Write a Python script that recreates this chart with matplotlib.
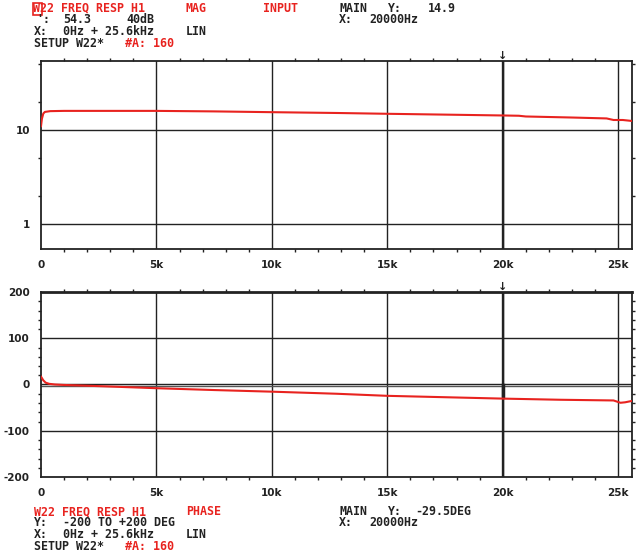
import matplotlib
matplotlib.use('Agg')
import matplotlib.pyplot as plt
import matplotlib.ticker as ticker
from matplotlib.patches import Rectangle

W, H = 640, 551
RED = '#e8231f'
INK = '#222222'

# 幅值曲线 (Hz, 幅值)
mag_freq = [0, 40, 100, 170, 400, 1000, 3000, 5000, 7500, 10000, 12800, 15000,
            17500, 20000, 20700, 21000, 23000, 24500, 24800, 25200, 25600]
mag_vals = [11.0, 13.2, 15.0, 15.6, 15.9, 16.0, 16.0, 16.0, 15.8, 15.5, 15.2, 14.9,
            14.6, 14.3, 14.2, 13.95, 13.6, 13.3, 12.8, 12.8, 12.5]

# 相位曲线 (Hz, deg)
phase_freq = [0, 100, 200, 350, 600, 1000, 2500, 5000, 7500, 10000, 12800, 15000,
              17500, 20000, 22500, 24800, 25100, 25300, 25600]
phase_vals = [17, 9, 4, 1.5, 0, -1, -3.5, -8, -12, -15.5, -20, -24.5,
              -27.5, -30.5, -33, -34.5, -39.5, -38.5, -35.5]

x_ticks = [0, 5000, 10000, 15000, 20000, 25000]
x_labels = ['0', '5k', '10k', '15k', '20k', '25k']
mag_ticks, mag_labels = [1, 10], ['1', '10']
mag_minor = [2, 5, 20, 50]
ph_ticks = [-200, -100, 0, 100, 200]
ph_labels = ['-200', '-100', '0', '100', '200']

header_top = [  # (x, y, text, colour)
    (33, 8, 'W22 FREQ RESP H1', RED), (186, 8, 'MAG', RED), (263, 8, 'INPUT', RED),
    (339, 8, 'MAIN', INK), (388, 8, 'Y:', INK), (428, 8, '14.9', INK),
    (36, 19.5, "':", INK), (63, 19.5, '54.3', INK), (126, 19.5, '40dB', INK),
    (339, 19.5, 'X:', INK), (369, 19.5, '20000Hz', INK),
    (34, 31.5, 'X:', INK), (63, 31.5, '0Hz + 25.6kHz', INK), (186, 31.5, 'LIN', INK),
    (34, 43.5, 'SETUP W22*', INK), (125, 43.5, '#A: 160', RED),
]
header_bot = [
    (34, 511.5, 'W22 FREQ RESP H1', RED), (186, 511.5, 'PHASE', RED),
    (339, 511.5, 'MAIN', INK), (388, 511.5, 'Y:', INK), (415, 511.5, '-29.5DEG', INK),
    (34, 523, 'Y:', INK), (63, 523, '-200 TO +200 DEG', INK),
    (339, 523, 'X:', INK), (369, 523, '20000Hz', INK),
    (34, 534.5, 'X:', INK), (63, 534.5, '0Hz + 25.6kHz', INK), (186, 534.5, 'LIN', INK),
    (34, 546, 'SETUP W22*', INK), (125, 546, '#A: 160', RED),
]

fig = plt.figure(figsize=(W / 100, H / 100), dpi=100)

def axes_px(left, top, right, bottom):
    return fig.add_axes([left / W, 1 - bottom / H, (right - left) / W, (bottom - top) / H])

def style(ax, xmax):
    ax.set_xlim(0, xmax)
    for s in ax.spines.values():
        s.set_color(INK); s.set_linewidth(1.3)
    ax.set_xticks(x_ticks)
    ax.set_xticklabels(x_labels)
    ax.xaxis.set_minor_locator(ticker.MultipleLocator(1000))
    ax.tick_params(axis='x', which='major', length=0, pad=8, labelsize=7.5, colors=INK)
    ax.tick_params(axis='both', which='minor', length=2.5, width=1.0, direction='out',
                   top=True, right=True, colors=INK)
    ax.tick_params(axis='y', which='major', length=0, pad=8, labelsize=7.5, colors=INK)
    for lab in ax.get_xticklabels() + ax.get_yticklabels():
        lab.set_fontweight('bold')
    for xv in x_ticks[1:]:
        ax.axvline(xv, color=INK, lw=1.0, zorder=1)
    ax.axvline(20000, color=INK, lw=1.7, zorder=1)

# ---- 幅值 ----
ax1 = axes_px(41, 61, 632, 249)
ax1.set_yscale('log')
ax1.set_ylim(0.543, 54.3)
ax1.set_yticks(mag_ticks)
ax1.set_yticklabels(mag_labels)
ax1.yaxis.set_minor_locator(ticker.FixedLocator(mag_minor))
ax1.yaxis.set_minor_formatter(ticker.NullFormatter())
style(ax1, 25600)
for yv in mag_ticks:
    ax1.axhline(yv, color=INK, lw=1.0, zorder=1)
ax1.plot(mag_freq, mag_vals, color=RED, lw=1.5, zorder=3)

# ---- 相位 ----
ax2 = axes_px(41, 292, 632, 477)
ax2.set_ylim(-200, 200)
ax2.set_yticks(ph_ticks)
ax2.set_yticklabels(ph_labels)
ax2.yaxis.set_minor_locator(ticker.MultipleLocator(20))
style(ax2, 25600)
ax2.spines['top'].set_linewidth(2.0)
for yv in [100, -100]:
    ax2.axhline(yv, color=INK, lw=1.0, zorder=1)
ax2.axhline(0.5, color=INK, lw=1.0, zorder=1)
ax2.axhline(-3.5, color='#555555', lw=1.0, zorder=1)
ax2.plot([20000, 20000], [0, -28], color=INK, lw=2.5, zorder=2)
ax2.plot(phase_freq, phase_vals, color=RED, lw=1.5, zorder=3)

# cursor markers above each panel
for ax in (ax1, ax2):
    ax.annotate('↓', xy=(20000, 1.0), xycoords=('data', 'axes fraction'),
                xytext=(0, 3.5), textcoords='offset points', ha='center', va='center',
                fontsize=8, fontweight='bold', color=INK, annotation_clip=False)

for x, y, s, c in header_top + header_bot:
    fig.text(x / W, 1 - y / H, s, ha='left', va='center', color=c,
             family='DejaVu Sans Mono', fontweight='bold', fontsize=8.4)

fig.add_artist(Rectangle((32.5 / W, 1 - 15 / H), 9.5 / W, 12.5 / H, transform=fig.transFigure,
                         fill=False, edgecolor=RED, lw=1.2))

fig.savefig('out.png', dpi=100)
